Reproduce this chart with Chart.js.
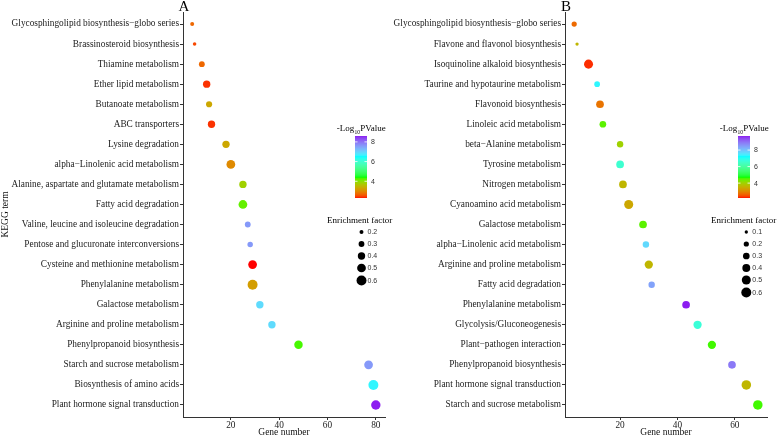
<!DOCTYPE html>
<html>
<head>
<meta charset="utf-8">
<script src="https://cdn.jsdelivr.net/npm/chart.js@4.4.1/dist/chart.umd.min.js"></script>
<style>
  body { margin: 0; background: #fff; }
  #wrap { position: relative; width: 778px; height: 438px; overflow: hidden; }
  canvas { position: absolute; top: 0; }
</style>
</head>
<body>
<div id="wrap">
  <canvas id="chartA" width="400" height="438" style="left:0"></canvas>
  <canvas id="chartB" width="388" height="438" style="left:390px"></canvas>
</div>
<script>
// ---- data, panel A ----
const termsA = [
  'Glycosphingolipid biosynthesis\u2212globo series', 'Brassinosteroid biosynthesis',
  'Thiamine metabolism', 'Ether lipid metabolism', 'Butanoate metabolism', 'ABC transporters',
  'Lysine degradation', 'alpha\u2212Linolenic acid metabolism',
  'Alanine, aspartate and glutamate metabolism', 'Fatty acid degradation',
  'Valine, leucine and isoleucine degradation', 'Pentose and glucuronate interconversions',
  'Cysteine and methionine metabolism', 'Phenylalanine metabolism', 'Galactose metabolism',
  'Arginine and proline metabolism', 'Phenylpropanoid biosynthesis',
  'Starch and sucrose metabolism', 'Biosynthesis of amino acids', 'Plant hormone signal transduction'
];
const genesA = [4, 5, 8, 10, 11, 12, 18, 20, 25, 25, 27, 28, 29, 29, 32, 37, 48, 77, 79, 80];
const enrichA = [0.2, 0.18, 0.3, 0.4, 0.32, 0.4, 0.4, 0.5, 0.4, 0.5, 0.3, 0.28, 0.5, 0.6, 0.4, 0.4, 0.48, 0.5, 0.6, 0.55];
const logPA = [2.7, 2.5, 2.7, 2.4, 3.3, 2.4, 3.3, 3.0, 3.8, 4.2, 7.6, 7.6, 2.3, 3.2, 6.9, 6.9, 4.3, 7.6, 6.6, 8.6];
const xTicksA = [20, 40, 60, 80];
const colorTicksA = [4, 6, 8];
const sizeTicksA = [0.2, 0.3, 0.4, 0.5, 0.6];

// ---- data, panel B ----
const termsB = [
  'Glycosphingolipid biosynthesis\u2212globo series', 'Flavone and flavonol biosynthesis',
  'Isoquinoline alkaloid biosynthesis', 'Taurine and hypotaurine metabolism',
  'Flavonoid biosynthesis', 'Linoleic acid metabolism', 'beta\u2212Alanine metabolism',
  'Tyrosine metabolism', 'Nitrogen metabolism', 'Cyanoamino acid metabolism',
  'Galactose metabolism', 'alpha\u2212Linolenic acid metabolism', 'Arginine and proline metabolism',
  'Fatty acid degradation', 'Phenylalanine metabolism', 'Glycolysis/Gluconeogenesis',
  'Plant\u2212pathogen interaction', 'Phenylpropanoid biosynthesis',
  'Plant hormone signal transduction', 'Starch and sucrose metabolism'
];
const genesB = [4, 5, 9, 12, 13, 14, 20, 20, 21, 23, 28, 29, 30, 31, 43, 47, 52, 59, 64, 68];
const enrichB = [0.2, 0.1, 0.5, 0.23, 0.38, 0.3, 0.28, 0.38, 0.38, 0.5, 0.38, 0.28, 0.43, 0.28, 0.38, 0.43, 0.43, 0.38, 0.55, 0.55];
const logPB = [2.7, 3.6, 2.3, 7.3, 2.8, 4.5, 4.0, 6.6, 3.6, 3.4, 4.5, 7.7, 3.6, 8.4, 9.7, 6.7, 4.6, 8.9, 3.6, 4.6];
const xTicksB = [20, 40, 60];
const colorTicksB = [4, 6, 8];
const sizeTicksB = [0.1, 0.2, 0.3, 0.4, 0.5, 0.6];

// ---- colour gradient (interpolated in Lab, like ggplot) ----
const gradientStops = ['#ff0000', '#00ff00', '#00ffff', '#8c1cf0'];

function hexToRgb(h) {
  return [1, 3, 5].map(i => parseInt(h.substr(i, 2), 16));
}
function toLin(c) { c /= 255; return c <= 0.04045 ? c / 12.92 : Math.pow((c + 0.055) / 1.055, 2.4); }
function fromLin(c) {
  c = c <= 0.0031308 ? 12.92 * c : 1.055 * Math.pow(c, 1 / 2.4) - 0.055;
  return Math.max(0, Math.min(255, Math.round(c * 255)));
}
function rgbToLab(rgb) {
  const [r, g, b] = rgb.map(toLin);
  let x = (r * 0.4124 + g * 0.3576 + b * 0.1805) / 0.95047;
  let y = (r * 0.2126 + g * 0.7152 + b * 0.0722);
  let z = (r * 0.0193 + g * 0.1192 + b * 0.9505) / 1.08883;
  const f = t => t > 0.008856 ? Math.cbrt(t) : 7.787 * t + 16 / 116;
  x = f(x); y = f(y); z = f(z);
  return [116 * y - 16, 500 * (x - y), 200 * (y - z)];
}
function labToRgb(lab) {
  const fy = (lab[0] + 16) / 116, fx = fy + lab[1] / 500, fz = fy - lab[2] / 200;
  const inv = t => t * t * t > 0.008856 ? t * t * t : (t - 16 / 116) / 7.787;
  const x = inv(fx) * 0.95047, y = inv(fy), z = inv(fz) * 1.08883;
  const r = x * 3.2406 + y * -1.5372 + z * -0.4986;
  const g = x * -0.9689 + y * 1.8758 + z * 0.0415;
  const b = x * 0.0557 + y * -0.2040 + z * 1.0570;
  return [fromLin(r), fromLin(g), fromLin(b)];
}
const stopLabs = gradientStops.map(h => rgbToLab(hexToRgb(h)));

function colourFor(v, range) {
  let t = (v - range[0]) / (range[1] - range[0]);
  t = Math.max(0, Math.min(1, t)) * (stopLabs.length - 1);
  const i = Math.min(stopLabs.length - 2, Math.floor(t));
  const f = t - i;
  const a = stopLabs[i], b = stopLabs[i + 1];
  const rgb = labToRgb([0, 1, 2].map(k => a[k] + (b[k] - a[k]) * f));
  return `rgb(${rgb[0]},${rgb[1]},${rgb[2]})`;
}

const serif = '"Liberation Serif", "Times New Roman", serif';
const sans = '"Liberation Sans", Arial, sans-serif';

// ---- legends and panel letter ----
const decor = {
  id: 'decor',
  afterDraw(chart, args, o) {
    const ctx = chart.ctx;
    ctx.save();
    // panel letter
    ctx.fillStyle = '#000';
    ctx.font = '15px ' + serif;
    ctx.textAlign = 'center';
    ctx.textBaseline = 'alphabetic';
    ctx.fillText(o.letter, chart.chartArea.left + 1, 11);

    // colour bar title: -Log10PValue
    ctx.textAlign = 'left';
    ctx.textBaseline = 'alphabetic';
    ctx.font = '9px ' + serif;
    const w1 = ctx.measureText('-Log').width;
    const w3 = ctx.measureText('PValue').width;
    ctx.font = '5.5px ' + serif;
    const w2 = ctx.measureText('10').width;
    const tx = o.barX + o.barW / 2 - (w1 + w2 + w3) / 2;
    ctx.font = '9px ' + serif;
    ctx.fillText('-Log', tx, 131);
    ctx.font = '5.5px ' + serif;
    ctx.fillText('10', tx + w1 + 0.2, 133.5);
    ctx.font = '9px ' + serif;
    ctx.fillText('PValue', tx + w1 + w2 + 0.4, 131);

    // colour bar
    const top = 136, bot = 198;
    for (let y = top; y < bot; y++) {
      const v = o.range[1] - (y + 0.5 - top) / (bot - top) * (o.range[1] - o.range[0]);
      ctx.fillStyle = colourFor(v, o.range);
      ctx.fillRect(o.barX, y, o.barW, 1);
    }
    ctx.font = '7px ' + sans;
    ctx.textBaseline = 'middle';
    o.colorTicks.forEach(v => {
      const y = bot - (v - o.range[0]) / (o.range[1] - o.range[0]) * (bot - top);
      ctx.strokeStyle = '#fff';
      ctx.lineWidth = 0.8;
      ctx.beginPath();
      ctx.moveTo(o.barX, y); ctx.lineTo(o.barX + 2.5, y);
      ctx.moveTo(o.barX + o.barW - 2.5, y); ctx.lineTo(o.barX + o.barW, y);
      ctx.stroke();
      ctx.fillStyle = '#333';
      ctx.fillText(String(v), o.barX + o.barW + 4, y + 0.5);
    });

    // size legend
    ctx.fillStyle = '#000';
    ctx.font = '9px ' + serif;
    ctx.textBaseline = 'middle';
    ctx.fillText('Enrichment factor', o.sizeTitleX, 221);
    let y = 232, prevH = 0;
    o.sizeTicks.forEach((v, i) => {
      const d = o.diam(v);
      const h = Math.max(12, d + 3);
      if (i > 0) y += (prevH + h) / 2;
      prevH = h;
      ctx.fillStyle = '#000';
      ctx.beginPath();
      ctx.arc(o.dotX, y, d / 2, 0, Math.PI * 2);
      ctx.fill();
      ctx.fillStyle = '#333';
      ctx.font = '7px ' + sans;
      ctx.fillText(v.toFixed(1), o.dotX + 6, y + 0.5);
    });
    ctx.restore();
  }
};

function makePanel(id, terms, genes, enrich, logP, xTicks, p) {
  const points = genes.map((g, i) => ({ x: g, y: i + 1, r: p.diam(enrich[i]) / 2 }));
  const colours = logP.map(v => colourFor(v, p.range));
  return new Chart(document.getElementById(id), {
    type: 'bubble',
    data: {
      datasets: [{
        data: points,
        backgroundColor: colours,
        borderWidth: 0,
        hoverBorderWidth: 0
      }]
    },
    plugins: [decor],
    options: {
      responsive: false,
      animation: false,
      events: [],
      layout: { padding: { top: 12, right: p.padRight, left: 0, bottom: 0 } },
      plugins: {
        legend: { display: false },
        tooltip: { enabled: false },
        decor: p
      },
      scales: {
        x: {
          type: 'linear',
          min: p.xMin, max: p.xMax,
          afterBuildTicks: s => { s.ticks = xTicks.map(v => ({ value: v })); },
          afterFit: s => { s.height = 21; },
          grid: { drawOnChartArea: false, drawTicks: true, tickLength: 3, color: '#333', tickColor: '#333' },
          border: { display: true, color: '#333', width: 1 },
          ticks: { font: { family: serif, size: 9.3 }, color: '#222', padding: 0, maxRotation: 0 },
          title: { display: true, text: 'Gene number', font: { family: serif, size: 9.5 }, color: '#111', padding: { top: 0, bottom: 0 } }
        },
        y: {
          type: 'linear',
          reverse: true,
          min: 0.4, max: terms.length + 0.6,
          afterBuildTicks: s => { s.ticks = terms.map((t, i) => ({ value: i + 1 })); },
          afterFit: s => { s.width = p.yWidth; },
          grid: { drawOnChartArea: false, drawTicks: true, tickLength: 3, color: '#333', tickColor: '#333' },
          border: { display: true, color: '#333', width: 1 },
          ticks: {
            font: { family: serif, size: 9.3 }, color: '#222', padding: 1, autoSkip: false,
            callback: v => terms[Math.round(v) - 1]
          },
          title: { display: p.yTitle, text: 'KEGG term', font: { family: serif, size: 9.5 }, color: '#111', padding: 0 }
        }
      }
    }
  });
}

makePanel('chartA', termsA, genesA, enrichA, logPA, xTicksA, {
  letter: 'A', range: [2.3, 8.6], colorTicks: colorTicksA, sizeTicks: sizeTicksA,
  diam: v => 18.3 * Math.sqrt(v) - 4.2,
  xMin: 0.2, xMax: 83.8, yWidth: 183, padRight: 15, yTitle: true,
  barX: 355, barW: 12, sizeTitleX: 327, dotX: 361.5
});

makePanel('chartB', termsB, genesB, enrichB, logPB, xTicksB, {
  letter: 'B', range: [2.2, 9.7], colorTicks: colorTicksB, sizeTicks: sizeTicksB,
  diam: v => 14.6 * Math.sqrt(v) - 1.31,
  xMin: 0.8, xMax: 71.2, yWidth: 175, padRight: 11, yTitle: false,
  barX: 348, barW: 12, sizeTitleX: 321, dotX: 356.3
});
</script>
</body>
</html>
